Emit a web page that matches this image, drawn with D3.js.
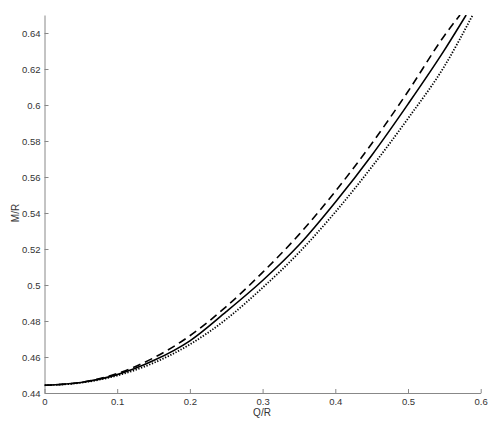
<!DOCTYPE html>
<html>
<head>
<meta charset="utf-8">
<script src="https://cdn.jsdelivr.net/npm/d3@7"></script>
<style>
  html, body { margin: 0; padding: 0; background: #fff; }
  svg { display: block; }
  text { font-family: "Liberation Sans", Arial, Helvetica, sans-serif; }
</style>
</head>
<body>
<svg id="chart" width="498" height="433"></svg>
<script>
// Data
const solidX  = [0, 0.05, 0.1, 0.15, 0.2, 0.25, 0.3, 0.35, 0.4, 0.45, 0.5, 0.55, 0.58];
const solidY  = [0.4443, 0.4458, 0.4502, 0.4580, 0.4690, 0.4852, 0.5025, 0.5222, 0.5460, 0.5720, 0.6005, 0.6305, 0.6500];
const dashedX = [0, 0.05, 0.1, 0.15, 0.2, 0.25, 0.3, 0.35, 0.4, 0.45, 0.5, 0.55, 0.5715];
const dashedY = [0.4443, 0.4459, 0.4508, 0.4595, 0.4718, 0.4880, 0.5070, 0.5280, 0.5520, 0.5785, 0.6075, 0.6385, 0.6500];
const dottedX = [0, 0.05, 0.1, 0.15, 0.2, 0.25, 0.3, 0.35, 0.4, 0.45, 0.5, 0.55, 0.589];
const dottedY = [0.4443, 0.4457, 0.4497, 0.4567, 0.4670, 0.4810, 0.4985, 0.5180, 0.5405, 0.5655, 0.5925, 0.6215, 0.6500];
const xTicks = [0, 0.1, 0.2, 0.3, 0.4, 0.5, 0.6];
const yTicks = [0.44, 0.46, 0.48, 0.5, 0.52, 0.54, 0.56, 0.58, 0.6, 0.62, 0.64];
const xLabel = "Q/R";
const yLabel = "M/R";

const svg = d3.select("#chart");
const x = d3.scaleLinear().domain([0, 0.6]).range([44.5, 480.7]);
const y = d3.scaleLinear().domain([0.44, 0.65]).range([393, 15]);

svg.append("defs").append("clipPath").attr("id", "clip")
  .append("rect").attr("x", x(0)).attr("y", y(0.65))
  .attr("width", x(0.6) - x(0)).attr("height", y(0.44) - y(0.65));

const fmt = d3.format(".2~f");

const xAxis = svg.append("g").attr("transform", `translate(0,${y(0.44)})`)
  .call(d3.axisBottom(x).tickValues(xTicks).tickFormat(fmt).tickSizeInner(-4).tickSizeOuter(0).tickPadding(5));
const yAxis = svg.append("g").attr("transform", `translate(${x(0)},0)`)
  .call(d3.axisLeft(y).tickValues(yTicks).tickFormat(fmt).tickSizeInner(-4).tickSizeOuter(0).tickPadding(4));

[xAxis, yAxis].forEach(g => {
  g.select(".domain").attr("stroke", "#888").attr("stroke-width", 1);
  g.selectAll(".tick line").attr("stroke", "#888");
  g.selectAll(".tick text").attr("fill", "#333").style("font-size", "9.5px")
    .style("font-family", '"Liberation Sans", Arial, sans-serif');
});
yAxis.selectAll(".tick text").attr("dy", "0.35em");

svg.append("text").attr("x", 262).attr("y", 416).attr("text-anchor", "middle")
  .attr("fill", "#333").style("font-size", "10px").text(xLabel);
svg.append("text").attr("transform", "translate(18.5,213) rotate(-90)").attr("text-anchor", "middle")
  .attr("fill", "#333").style("font-size", "10px").text(yLabel);

const line = d3.line().x(d => x(d[0])).y(d => y(d[1])).curve(d3.curveMonotoneX);
const series = [
  { xs: dashedX, ys: dashedY, dash: "8,5", w: 1.6 },
  { xs: solidX, ys: solidY, dash: null, w: 1.6 },
  { xs: dottedX, ys: dottedY, dash: "1.3,1.6", w: 1.8 }
];
const plot = svg.append("g").attr("clip-path", "url(#clip)");
series.forEach(s => {
  const pts = s.xs.map((v, i) => [v, s.ys[i]]);
  plot.append("path").datum(pts)
    .attr("d", line)
    .attr("fill", "none")
    .attr("stroke", "#000")
    .attr("stroke-width", s.w)
    .attr("stroke-dasharray", s.dash);
});
</script>
</body>
</html>
